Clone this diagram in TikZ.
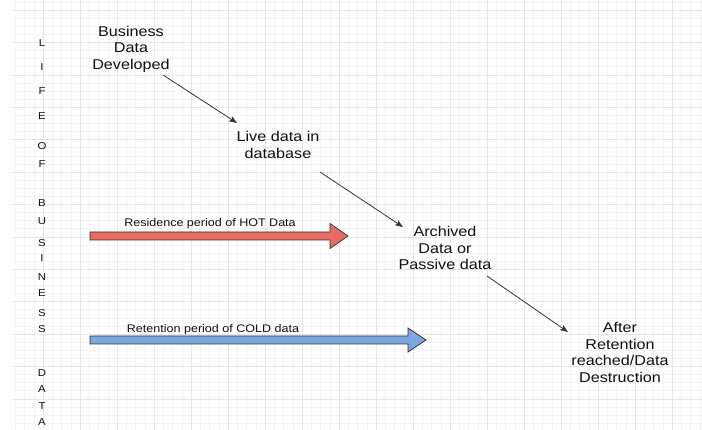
\documentclass[tikz,border=0pt]{standalone}
\usepackage{fontspec}
\setmainfont{Liberation Sans}
\usepackage{graphicx}
\usetikzlibrary{arrows.meta,calc}
\definecolor{gridmaj}{HTML}{E6E6E6}
\definecolor{gridmin}{HTML}{F4F4F4}
\definecolor{hotred}{HTML}{EA6B66}
\definecolor{coldblue}{HTML}{7EA6E0}
\definecolor{ink}{HTML}{111111}
\definecolor{edgegray}{HTML}{333333}
\newcommand{\sx}[1]{\scalebox{1.14}[1]{#1}}
\begin{document}
\begin{tikzpicture}[x=1pt,y=-1pt,
  gridminor/.style={draw=gridmin,line width=0.45pt},
  gridmajor/.style={draw=gridmaj,line width=0.55pt},
  stagetext/.style={font=\fontsize{14.2}{16.5}\selectfont,text=ink,align=center,inner sep=0pt},
  lbl/.style={font=\fontsize{11}{13}\selectfont,text=ink,inner sep=0pt},
  letter/.style={font=\fontsize{10}{12}\selectfont,text=ink,inner sep=0pt},
  flow/.style={draw=edgegray,line width=0.8pt,-{Stealth[length=8pt,width=6pt,inset=2pt]}},
  fat/.style={draw=edgegray,line width=0.7pt,line join=miter}]
\useasboundingbox (0,0) rectangle (702,430);
\fill[white] (0,0) rectangle (702,430);
\begin{scope}
\clip (12,0) rectangle (702,430);
\foreach \i in {-3,...,71} \draw[gridminor] ({43+9.25*\i},0) -- ({43+9.25*\i},430);
\foreach \j in {-1,...,52} \draw[gridminor] (12,{10+8.1*\j}) -- (702,{10+8.1*\j});
\foreach \i in {0,...,17} \draw[gridmajor] ({43+37*\i},0) -- ({43+37*\i},430);
\foreach \j in {0,...,13} \draw[gridmajor] (12,{10+32.4*\j}) -- (702,{10+32.4*\j});
\end{scope}

% vertical title letters
\foreach \c/\y [count=\k] in {L/43,I/67,F/91,E/116,O/146,F/164,B/203,U/221,S/243,I/258,N/277,E/293,S/313,S/329,D/373,A/389,T/406,A/422}
  \node[letter] (v\k) at (42,\y) {\sx{\c}};

% stages
\node[stagetext] (bdd) at (131,49) {\sx{Business}\\\sx{Data}\\\sx{Developed}};
\node[stagetext] (live) at (278,145) {\sx{Live data in}\\\sx{database}};
\node[stagetext] (arch) at (445,248) {\sx{Archived}\\\sx{Data or}\\\sx{Passive data}};
\node[stagetext] (after) at (620,352.5) {\sx{After}\\\sx{Retention}\\\sx{reached/Data}\\\sx{Destruction}};

% connectors
\draw[flow] ([shift={(32,26)}]bdd.center) -- ([shift={(-41,-22)}]live.center);
\draw[flow] ([shift={(42,27)}]live.center) -- ([shift={(-42,-21)}]arch.center);
\draw[flow] ([shift={(42,28)}]arch.center) -- ([shift={(-52,-20.5)}]after.center);

% fat arrows
\draw[fat,fill=hotred] (90,232) -- (330,232) -- (330,223.5) -- (348,236) -- (330,248.5) -- (330,240) -- (90,240) -- cycle;
\draw[fat,fill=coldblue] (90,336) -- (408,336) -- (408,328) -- (426,340) -- (408,352) -- (408,344) -- (90,344) -- cycle;
\node[lbl] (hot) at (210,224) {\sx{Residence period of HOT Data}};
\node[lbl] (cold) at (213,330) {\sx{Retention period of COLD data}};
\end{tikzpicture}
\end{document}
